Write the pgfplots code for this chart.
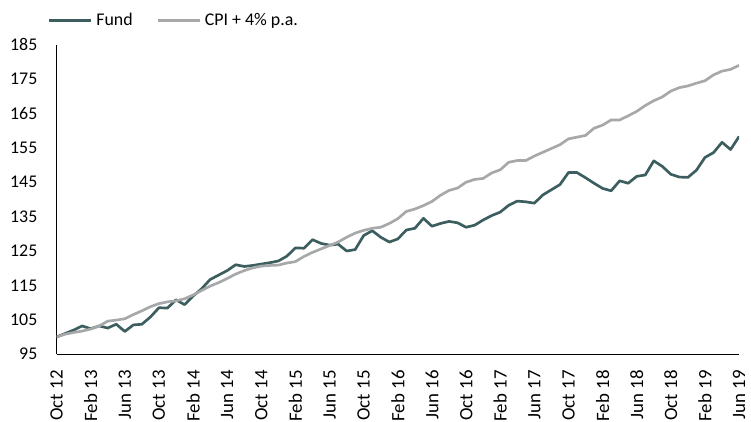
\documentclass[border=0pt]{standalone}
\usepackage{pgfplots}
\pgfplotsset{compat=1.18}
\usepackage{pgfplotstable}
\usepackage{fontspec}
\setmainfont{Carlito}
\definecolor{fundcol}{RGB}{61,94,95}
\definecolor{cpicol}{RGB}{166,168,170}

\pgfplotstableread{
m fund cpi
0 100.0 100.0
1 101.0 100.8
2 102.0 101.3
3 103.2 101.7
4 102.4 102.3
5 103.2 103.2
6 102.6 104.6
7 103.7 104.9
8 101.6 105.3
9 103.5 106.5
10 103.7 107.6
11 105.8 108.8
12 108.5 109.7
13 108.4 110.2
14 110.8 110.5
15 109.4 111.1
16 111.9 112.2
17 114.0 113.5
18 116.7 114.8
19 118.0 115.8
20 119.3 117.0
21 121.0 118.3
22 120.5 119.3
23 120.8 120.1
24 121.2 120.6
25 121.6 120.8
26 122.1 120.9
27 123.5 121.5
28 125.9 121.9
29 125.8 123.4
30 128.3 124.6
31 127.2 125.6
32 126.7 126.6
33 127.0 127.6
34 125.0 129.0
35 125.4 130.2
36 129.5 131.0
37 130.9 131.6
38 129.0 131.9
39 127.6 133.0
40 128.5 134.4
41 131.1 136.5
42 131.6 137.2
43 134.5 138.2
44 132.2 139.4
45 133.0 141.2
46 133.6 142.6
47 133.2 143.3
48 131.9 145.0
49 132.5 145.8
50 134.0 146.1
51 135.3 147.7
52 136.3 148.6
53 138.3 150.8
54 139.5 151.3
55 139.3 151.3
56 138.9 152.6
57 141.3 153.7
58 142.8 154.8
59 144.3 155.9
60 147.8 157.6
61 147.8 158.1
62 146.3 158.6
63 144.7 160.7
64 143.2 161.6
65 142.5 163.1
66 145.4 163.1
67 144.7 164.3
68 146.7 165.6
69 147.1 167.3
70 151.2 168.7
71 149.6 169.8
72 147.3 171.5
73 146.5 172.5
74 146.4 173.0
75 148.5 173.8
76 152.2 174.5
77 153.6 176.2
78 156.6 177.3
79 154.5 177.8
80 158.3 179.0
}\datatable

\begin{document}
\begin{tikzpicture}
\begin{axis}[
  scale only axis,
  width=344pt, height=156pt,
  xmin=0, xmax=80, ymin=95, ymax=185,
  axis x line*=bottom, axis y line*=left,
  axis line style={-, black, line width=0.5pt},
  major tick length=0pt,
  ytick={95,105,...,185},
  xtick={0,4,...,80},
  xticklabels={Oct 12,Feb 13,Jun 13,Oct 13,Feb 14,Jun 14,Oct 14,Feb 15,Jun 15,Oct 15,Feb 16,Jun 16,Oct 16,Feb 17,Jun 17,Oct 17,Feb 18,Jun 18,Oct 18,Feb 19,Jun 19},
  /pgf/number format/assume math mode=true,
  tick label style={font=\fontsize{9}{10}\selectfont, inner sep=0pt},
  xticklabel style={rotate=90, anchor=east, font=\fontsize{9.5}{10}\selectfont},
  xticklabel shift=8pt,
  yticklabel shift=9.5pt,
  legend columns=2,
  legend style={draw=none, fill=none, at={(0,1)}, anchor=west, xshift=-4.5pt, yshift=12pt,
    font=\fontsize{9}{10}\selectfont, inner sep=0pt,
    /tikz/every even column/.append style={column sep=10pt}},
  legend image code/.code={\draw[#1] (0pt,0pt) -- (21pt,0pt);},
]
\addplot[fundcol, line width=1.35pt, line join=round] table[x=m, y=fund] {\datatable};
\addlegendentry{Fund}
\addplot[cpicol, line width=1.35pt, line join=round] table[x=m, y=cpi] {\datatable};
\addlegendentry{CPI + 4\% p.a.}
\end{axis}
\path ([xshift=-28.5pt,yshift=22.5pt]current axis.north west) rectangle ([xshift=6pt,yshift=-32pt]current axis.south east);
\end{tikzpicture}
\end{document}
